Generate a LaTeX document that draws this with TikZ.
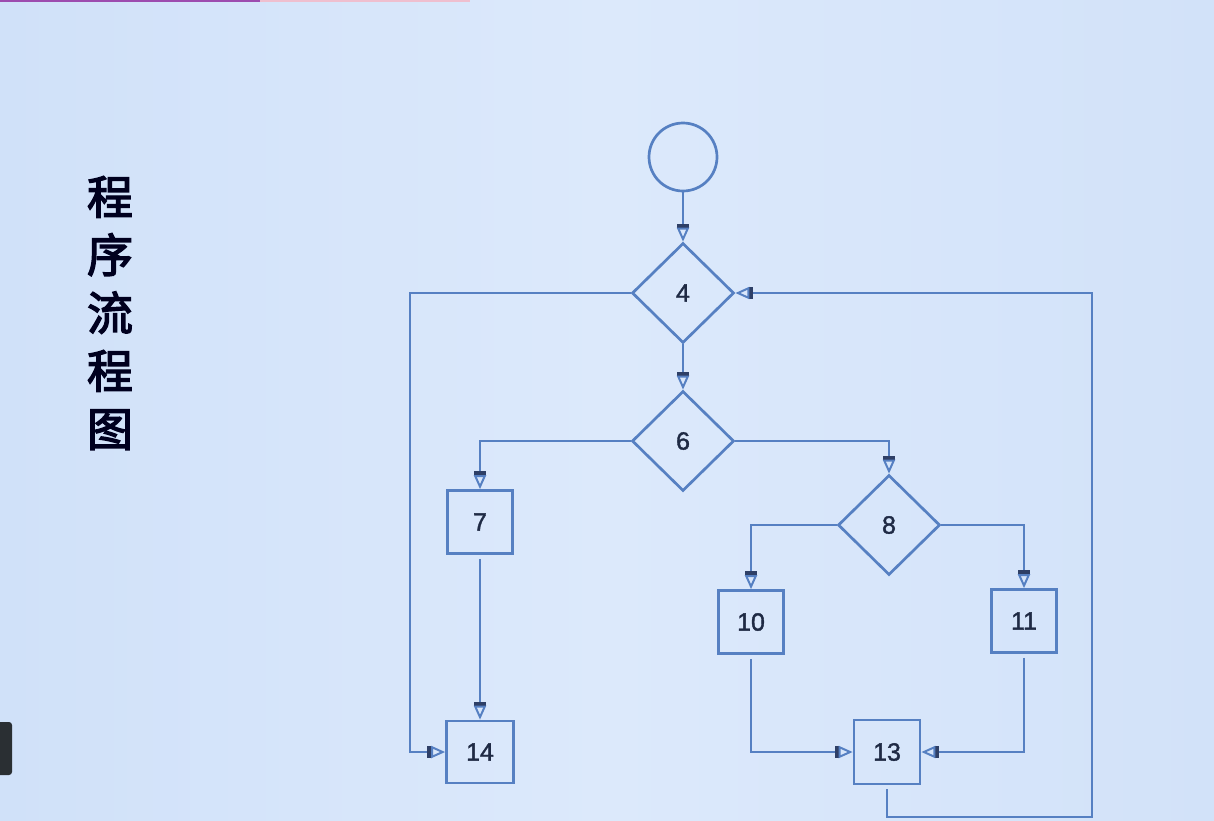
\documentclass[tikz,border=0pt]{standalone}
\usepackage{fontspec}
\setmainfont{Liberation Sans}
\newfontfamily\cjk[FakeBold=3]{Noto Sans CJK SC}
\usetikzlibrary{shapes.geometric,arrows.meta}
\definecolor{bgA}{HTML}{D0E1F9}
\definecolor{bgB}{HTML}{DCE9FB}
\definecolor{bgC}{HTML}{D2E2F9}
\definecolor{ln}{HTML}{5680C2}
\definecolor{txt}{HTML}{1F2A44}
\definecolor{tab}{HTML}{2A2F33}
\definecolor{barc}{HTML}{2E3F66}
\tikzset{
  fl/.style={draw=ln,line width=2.7pt},
  num/.style={font=\fontsize{25}{25}\selectfont\addfontfeature{FakeBold=1.5},text=txt},
  dia/.style={fl,diamond,minimum width=102pt,minimum height=100pt,inner sep=0pt,num},
  box/.style={fl,rectangle,minimum width=65pt,minimum height=63pt,inner sep=0pt,num},
  arr/.style={draw=ln,line width=2.7pt,-{Rectangle[length=4pt,width=12pt,color=barc,fill=barc] Triangle[open,length=14pt,width=12pt,line width=2pt]}},
}
\begin{document}
\begin{tikzpicture}[x=1pt,y=-1pt]
\useasboundingbox (0,0) rectangle (1214,820);
\shade[left color=bgA,right color=bgC,middle color=bgB] (0,0) rectangle (1214,820);
\fill[color=purple!60!blue!70] (0,0) rectangle (260,2);
\fill[color=purple!25!white] (260,0) rectangle (470,2);
\fill[color=tab,rounded corners=3pt] (-6,722) rectangle (12,775);
% title
\node[font=\cjk\fontsize{46}{58}\selectfont,text=black!88!blue,align=center,inner sep=0pt] (title) at (110,313) {程\\序\\流\\程\\图};
% nodes
\node[fl,circle,minimum size=68pt,inner sep=0pt] (start) at (683,157) {};
\node[dia] (d4) at (683,293) {4};
\node[dia] (d6) at (683,441) {6};
\node[dia] (d8) at (889,525) {8};
\node[box] (b7) at (480,522) {7};
\node[box] (b10) at (751,622) {10};
\node[box] (b11) at (1024,621) {11};
\node[box,minimum width=66pt,minimum height=64pt] (b13) at (887,752) {13};
\node[box,minimum width=67pt,minimum height=62pt] (b14) at (480,752) {14};
\coordinate (l1) at (410,293);
\coordinate (r1) at (1092,817);
\coordinate (r2) at (1092,293);
% connectors
\draw[arr] (start.south) -- (d4.north);
\draw[arr] (d4.south) -- (d6.north);
\draw[arr] (d4.west) -- (l1) |- (b14.west);
\draw[arr] (d6.west) -| (b7.north);
\draw[arr] (d6.east) -| (d8.north);
\draw[arr] (d8.west) -| (b10.north);
\draw[arr] (d8.east) -| (b11.north);
\draw[arr,shorten <=4pt] (b7.south) -- (b14.north);
\draw[arr,shorten <=4pt] (b10.south) |- (b13.west);
\draw[arr,shorten <=4pt] (b11.south) |- (b13.east);
\draw[arr,shorten <=4pt] (b13.south) |- (r1) -- (r2) -- (d4.east);
\end{tikzpicture}
\end{document}
